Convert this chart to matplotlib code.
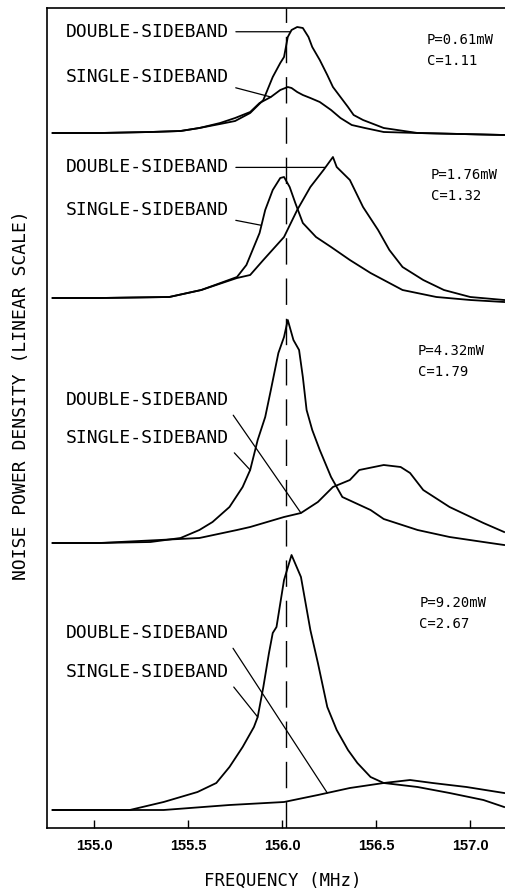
import matplotlib
matplotlib.use("Agg")
import matplotlib.pyplot as plt
import numpy as np

# x axis (MHz)
xticks = [155.0, 155.5, 156.0, 156.5, 157.0]
xtick_labels = ["155.0", "155.5", "156.0", "156.5", "157.0"]
center_freq = 156.02

# pump power / cooperativity, top panel first
powers = ["P=0.61mW", "P=1.76mW", "P=4.32mW", "P=9.20mW"]
coops = ["C=1.11", "C=1.32", "C=1.79", "C=2.67"]

# ---- panel 1, P=0.61mW (noise density, arb. linear units) ----
f1_dsb = [154.78, 155.03, 155.30, 155.46, 155.56, 155.67, 155.75, 155.83, 155.90, 155.95, 155.99,
          156.01, 156.03, 156.05, 156.08, 156.11, 156.14, 156.16, 156.20, 156.24, 156.27, 156.31,
          156.35, 156.38, 156.43, 156.54, 156.72, 157.18]
n1_dsb = [1, 1, 2, 3, 6, 10, 13, 21, 34, 57, 71, 77, 97, 104, 107, 106, 97, 87, 74, 59, 47, 37,
          27, 19, 14, 6, 1, -1]
f1_ssb = [154.78, 155.03, 155.30, 155.46, 155.56, 155.67, 155.75, 155.83, 155.88, 155.94, 155.99,
          156.03, 156.05, 156.08, 156.11, 156.15, 156.20, 156.26, 156.31, 156.37, 156.44, 156.54,
          156.72, 157.18]
n1_ssb = [1, 1, 2, 3, 6, 11, 16, 22, 31, 37, 44, 47, 46, 42, 39, 36, 32, 24, 16, 9, 6, 2, 1, -1]

# ---- panel 2, P=1.76mW ----
f2_dsb = [154.78, 155.03, 155.40, 155.57, 155.76, 155.83, 155.90, 156.01, 156.08, 156.15, 156.22,
          156.27, 156.29, 156.36, 156.43, 156.51, 156.57, 156.64, 156.75, 156.86, 157.00, 157.18]
n2_dsb = [1, 1, 2, 9, 21, 24, 39, 62, 89, 112, 129, 142, 132, 119, 92, 69, 49, 32, 19, 9, 2, -1]
f2_ssb = [154.78, 155.03, 155.40, 155.57, 155.76, 155.81, 155.88, 155.91, 155.95, 155.99, 156.01,
          156.04, 156.07, 156.11, 156.18, 156.26, 156.36, 156.47, 156.64, 156.82, 157.00, 157.18]
n2_ssb = [1, 1, 2, 9, 22, 34, 66, 89, 109, 121, 122, 112, 96, 76, 62, 52, 39, 26, 9, 2, -1, -3]

# ---- panel 3, P=4.32mW ----
f3_dsb = [154.78, 155.03, 155.56, 155.76, 155.83, 156.01, 156.10, 156.19, 156.27, 156.36, 156.41,
          156.54, 156.63, 156.68, 156.75, 156.89, 157.07, 157.18]
n3_dsb = [0, 0, 5, 13, 16, 26, 30, 41, 56, 63, 73, 78, 76, 70, 53, 36, 20, 11]
f3_ssb = [154.78, 155.03, 155.30, 155.46, 155.56, 155.63, 155.72, 155.79, 155.83, 155.87, 155.91,
          155.94, 155.98, 156.01, 156.03, 156.06, 156.09, 156.11, 156.13, 156.16, 156.20, 156.26,
          156.32, 156.47, 156.54, 156.72, 156.89, 157.07, 157.18]
n3_ssb = [0, 0, 1, 5, 13, 21, 36, 56, 73, 103, 126, 153, 190, 206, 223, 203, 193, 166, 133, 113,
          93, 66, 46, 33, 24, 13, 6, 1, -2]

# ---- panel 4, P=9.20mW ----
f4_dsb = [154.78, 155.37, 155.72, 156.01, 156.19, 156.36, 156.54, 156.68, 156.80, 156.98, 157.18]
n4_dsb = [0, 0, 5, 8, 15, 22, 27, 30, 27, 23, 17]
f4_ssb = [154.78, 155.19, 155.37, 155.55, 155.65, 155.72, 155.79, 155.85, 155.87, 155.90, 155.93,
          155.95, 155.97, 156.01, 156.05, 156.10, 156.15, 156.19, 156.24, 156.29, 156.35, 156.40,
          156.47, 156.54, 156.72, 156.89, 157.07, 157.18]
n4_ssb = [0, 0, 8, 18, 27, 43, 63, 83, 93, 123, 157, 177, 183, 230, 255, 233, 180, 147, 103, 80,
          60, 47, 33, 27, 23, 17, 10, 3]

panels = [
    (f1_dsb, n1_dsb, f1_ssb, n1_ssb),
    (f2_dsb, n2_dsb, f2_ssb, n2_ssb),
    (f3_dsb, n3_dsb, f3_ssb, n3_ssb),
    (f4_dsb, n4_dsb, f4_ssb, n4_ssb),
]

# layout of the stacked traces
offsets = [694, 529, 285, 18]
# (text y, leader target freq, horizontal leader?) for DSB and SSB labels
dsb_lbl = [(None, 156.045, True), (None, 156.23, True), (428, 156.10, False), (195, 156.24, False)]
ssb_lbl = [(751, 155.94, False), (618, 155.89, False), (390, 155.83, False), (156, 155.87, False)]
pc_pos = [(156.77, 788), (156.79, 653), (156.72, 477), (156.73, 225)]

mono = "DejaVu Sans Mono"

fig = plt.figure(figsize=(5.06, 8.90), dpi=100)
ax = fig.add_axes([47 / 506, 62 / 890, 459 / 506, 820 / 890])

ax.axvline(center_freq, color="black", lw=1.0, linestyle=(0, (19, 10)), zorder=1)

for i, (fd, nd, fs, ns) in enumerate(panels):
    off = offsets[i]
    ax.plot(fd, np.array(nd) + off, color="black", lw=1.3, zorder=2)
    ax.plot(fs, np.array(ns) + off, color="black", lw=1.3, zorder=2)

    for name, (ty, ft, horiz), f, n in [("DOUBLE-SIDEBAND", dsb_lbl[i], fd, nd),
                                        ("SINGLE-SIDEBAND", ssb_lbl[i], fs, ns)]:
        yt = np.interp(ft, f, n) + off
        if horiz:
            ty = yt
            rel = (1, 0.5)
        else:
            rel = (1, 0)
        ax.annotate(name, xy=(ft, yt), xytext=(154.85, ty), textcoords="data",
                    ha="left", va="center", fontsize=13, family=mono,
                    arrowprops=dict(arrowstyle="-", color="black", lw=0.9,
                                    shrinkA=3, shrinkB=0, relpos=rel))

    px, py = pc_pos[i]
    ax.text(px, py, powers[i], fontsize=10, family=mono, ha="left", va="center")
    ax.text(px, py - 21, coops[i], fontsize=10, family=mono, ha="left", va="center")

ax.set_xlim(154.75, 157.19)
ax.set_ylim(0, 820)
ax.set_xticks(xticks)
ax.set_xticklabels(xtick_labels, fontsize=10.5, fontweight="bold", family="Liberation Sans")
ax.set_yticks([])
ax.tick_params(axis="x", direction="in", length=6, width=1.0, pad=8)
ax.spines["right"].set_visible(False)
for s in ["left", "bottom", "top"]:
    ax.spines[s].set_linewidth(1.2)

fig.text(283 / 506, 1 - 881 / 890, "FREQUENCY (MHz)", ha="center", va="center",
         fontsize=12.5, family=mono)
fig.text(21 / 506, 1 - 395 / 890, "NOISE POWER DENSITY (LINEAR SCALE)", ha="center",
         va="center", rotation=90, fontsize=13, family=mono)

fig.savefig("out.png", dpi=100)
